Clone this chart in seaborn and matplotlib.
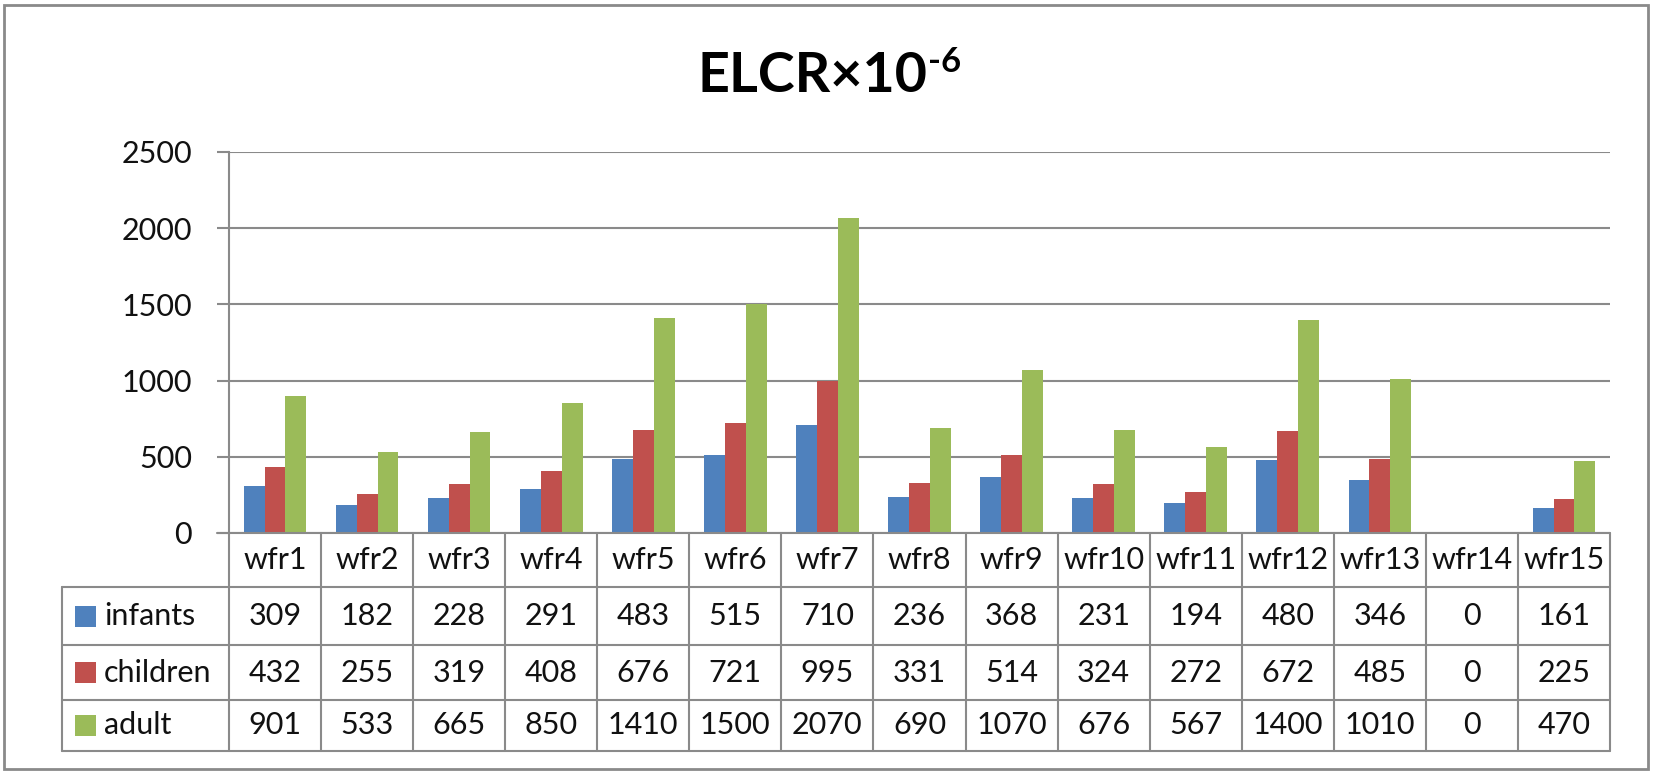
import numpy as np
import pandas as pd
import matplotlib
matplotlib.use('Agg')
import matplotlib.pyplot as plt
import seaborn as sns
from matplotlib.transforms import blended_transform_factory
from matplotlib.patches import Rectangle

sites = ['wfr1', 'wfr2', 'wfr3', 'wfr4', 'wfr5', 'wfr6', 'wfr7', 'wfr8',
         'wfr9', 'wfr10', 'wfr11', 'wfr12', 'wfr13', 'wfr14', 'wfr15']
infants = [309, 182, 228, 291, 483, 515, 710, 236, 368, 231, 194, 480, 346, 0, 161]
children = [432, 255, 319, 408, 676, 721, 995, 331, 514, 324, 272, 672, 485, 0, 225]
adult = [901, 533, 665, 850, 1410, 1500, 2070, 690, 1070, 676, 567, 1400, 1010, 0, 470]
groups = ['infants', 'children', 'adult']
colors = ['#4F81BD', '#C0504D', '#9BBB59']
yticks = [0, 500, 1000, 1500, 2000, 2500]

sns.set_theme(style='white')
plt.rcParams['font.family'] = ['Lato', 'DejaVu Sans']
TXT = '#111111'
LINE = '#8a8a8a'
FS = 22

W, H = 1654, 775
fig = plt.figure(figsize=(W / 100, H / 100), dpi=100)
fig.patch.set_facecolor('white')

# plot area in pixels: x 229..1610, y 152..533
ax = fig.add_axes([229 / W, 1 - 533 / H, (1610 - 229) / W, (533 - 152) / H])

df = pd.DataFrame({
    'site': sites * 3,
    'group': np.repeat(groups, len(sites)),
    'value': infants + children + adult,
})
sns.barplot(data=df, x='site', y='value', hue='group', hue_order=groups,
            palette=colors, width=0.68, saturation=1, errorbar=None,
            legend=False, ax=ax, linewidth=0)

ax.set_xlim(-0.5, len(sites) - 0.5)
ax.set_ylim(0, 2500)
ax.set_yticks(yticks)
ax.set_xticks([])
ax.set_xlabel('')
ax.set_ylabel('')
ax.set_axisbelow(True)
ax.yaxis.grid(True, color=LINE, linewidth=1.5)
for s in ['top', 'right', 'bottom']:
    ax.spines[s].set_visible(False)
ax.spines['left'].set_color(LINE)
ax.spines['left'].set_linewidth(1.5)
ax.tick_params(axis='y', length=8.6, width=1.5, color=LINE, pad=18,
               labelsize=FS, labelcolor=TXT, left=True)

# ---- data table under the axis ----
trans = blended_transform_factory(ax.transData, ax.transAxes)

def dx(px):
    return -0.5 + (px - 229) / 92.0

def ay(py):
    return (533 - py) / 381.0

rows_px = [533, 587, 645, 700, 751]
xl = dx(62)
xr = len(sites) - 0.5

ax.plot([dx(217), xr], [0, 0], color=LINE, lw=1.5, transform=trans, clip_on=False)
for py in rows_px[1:]:
    ax.plot([xl, xr], [ay(py)] * 2, color=LINE, lw=1.5, transform=trans, clip_on=False)
for k in range(len(sites) + 1):
    xv = -0.5 + k
    ax.plot([xv, xv], [0, ay(rows_px[-1])], color=LINE, lw=1.5, transform=trans, clip_on=False)
ax.plot([xl, xl], [ay(rows_px[1]), ay(rows_px[-1])], color=LINE, lw=1.5,
        transform=trans, clip_on=False)

def row_mid(r):
    return ay((rows_px[r] + rows_px[r + 1]) / 2)

for i, s in enumerate(sites):
    ax.text(i, row_mid(0), s, ha='center', va='center', fontsize=FS,
            color=TXT, transform=trans)

series = [infants, children, adult]
for r, (g, vals, c) in enumerate(zip(groups, series, colors), start=1):
    ym = row_mid(r)
    ax.add_patch(Rectangle((dx(75), ym - 10.5 / 381), 21 / 92, 21 / 381,
                           facecolor=c, edgecolor='none', transform=trans,
                           clip_on=False))
    ax.text(dx(104), ym, g, ha='left', va='center', fontsize=FS,
            color=TXT, transform=trans)
    for i, v in enumerate(vals):
        ax.text(i, ym, f'{v}', ha='center', va='center', fontsize=FS,
                color=TXT, transform=trans)

# title with superscript
t = fig.text(697 / W, 1 - 92 / H, 'ELCR×10', ha='left', va='baseline',
             fontsize=40, fontweight='bold', color='#000000')
ax.annotate('-6', xy=(1, 1 - 72 / H), xycoords=(t, 'figure fraction'),
            xytext=(1, 0), textcoords='offset points', ha='left',
            va='baseline', fontsize=25, fontweight='bold', color='#000000',
            annotation_clip=False)

# outer chart border
fig.add_artist(Rectangle((4 / W, 1 - 769 / H), (1648 - 4) / W, (769 - 5) / H,
                         transform=fig.transFigure, fill=False,
                         edgecolor=LINE, linewidth=2))

fig.savefig('out.png', dpi=100)
